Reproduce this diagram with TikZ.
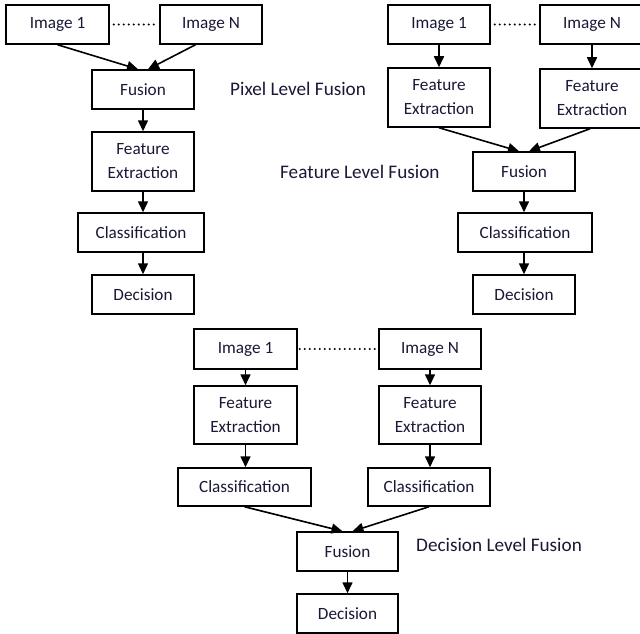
\documentclass[tikz,border=0pt]{standalone}
\usepackage{fontspec}
\setmainfont{Carlito}
\usetikzlibrary{arrows.meta,calc}
\definecolor{txt}{RGB}{25,25,55}
\begin{document}
\begin{tikzpicture}[x=1pt,y=-1pt,
  box/.style={draw=black,line width=1.5pt,rectangle,inner sep=0pt,
    text=txt,font=\fontsize{17.2}{24}\selectfont,align=center},
  lvl/.style={inner sep=0pt,anchor=west,text=txt,font=\fontsize{19.2}{23}\selectfont},
  arr/.style={draw=black,line width=1.6pt,-{Triangle[length=11pt,width=10pt]}},
  dots/.style={draw=black,line width=2.2pt,line cap=round,dash pattern=on 0pt off 5pt}]
\useasboundingbox (0,0) rectangle (640,634);
\clip (0,0) rectangle (640,634);
\fill[white] (0,0) rectangle (640,634);

% Pixel level fusion
\node[box,minimum width=103pt,minimum height=39pt] (i1a) at (57.5,24.5) {Image 1};
\node[box,minimum width=102pt,minimum height=39pt] (iNa) at (211,24.5) {Image N};
\node[box,minimum width=102pt,minimum height=39pt] (fa) at (143,89.5) {Fusion};
\node[box,minimum width=102pt,minimum height=59pt] (fea) at (143,161.5) {Feature\\Extraction};
\node[box,minimum width=126pt,minimum height=39pt] (ca) at (141,232.5) {Classification};
\node[box,minimum width=102pt,minimum height=39pt] (da) at (143,294.5) {Decision};
\draw[dots] ($(i1a.east)+(4,0)$) -- ($(iNa.west)+(-2,0)$);
\draw[arr] (i1a.south) -- ($(fa.north)+(-5,0)$);
\draw[arr] ($(iNa.south west)!0.35!(iNa.south east)$) -- ($(fa.north)+(5,0)$);
\draw[arr] (fa.south) -- (fea.north);
\draw[arr] (fea.south) -- (fea.south |- ca.north);
\draw[arr] (ca.south -| da.north) -- (da.north);
\node[lvl] (lp) at (230,89) {Pixel Level Fusion};

% Feature level fusion
\node[box,minimum width=102pt,minimum height=39pt] (i1b) at (439,24.5) {Image 1};
\node[box,minimum width=104pt,minimum height=39pt] (iNb) at (592,24.5) {Image N};
\node[box,minimum width=102pt,minimum height=59pt] (feb1) at (439,97.5) {Feature\\Extraction};
\node[box,minimum width=104pt,minimum height=59pt] (feb2) at (592,98.5) {Feature\\Extraction};
\node[box,minimum width=102pt,minimum height=39pt] (fb) at (524,171.5) {Fusion};
\node[box,minimum width=134pt,minimum height=39pt] (cb) at (525,232.5) {Classification};
\node[box,minimum width=102pt,minimum height=39pt] (db) at (524,294.5) {Decision};
\draw[dots] ($(i1b.east)+(4,0)$) -- ($(iNb.west)+(-2,0)$);
\draw[arr] (i1b.south) -- (feb1.north);
\draw[arr] (iNb.south) -- (iNb.south |- feb2.north);
\draw[arr] (feb1.south) -- ($(fb.north)+(-5,0)$);
\draw[arr] ($(feb2.south)+(-2,0)$) -- ($(fb.north)+(5,0)$);
\draw[arr] (fb.south) -- (fb.south |- cb.north);
\draw[arr] (cb.south -| db.north) -- (db.north);
\node[lvl] (lf) at (280,171.5) {Feature Level Fusion};

% Decision level fusion
\node[box,minimum width=103pt,minimum height=40pt] (i1c) at (245.5,349) {Image 1};
\node[box,minimum width=102pt,minimum height=40pt] (iNc) at (430,349) {Image N};
\node[box,minimum width=103pt,minimum height=58pt] (fec1) at (245.5,415) {Feature\\Extraction};
\node[box,minimum width=102pt,minimum height=58pt] (fec2) at (430,415) {Feature\\Extraction};
\node[box,minimum width=133pt,minimum height=38pt] (cc1) at (244.5,487) {Classification};
\node[box,minimum width=122pt,minimum height=38pt] (cc2) at (429,487) {Classification};
\node[box,minimum width=101pt,minimum height=39pt] (fc) at (347.5,551.5) {Fusion};
\node[box,minimum width=101pt,minimum height=39pt] (dc) at (347.5,613.5) {Decision};
\draw[dots] ($(i1c.east)+(2,0)$) -- ($(iNc.west)+(-3,0)$);
\draw[arr] (i1c.south) -- (fec1.north);
\draw[arr] (iNc.south) -- (fec2.north);
\draw[arr] (fec1.south) -- (fec1.south |- cc1.north);
\draw[arr] (fec2.south) -- (fec2.south |- cc2.north);
\draw[arr] (cc1.south) -- ($(fc.north)+(-5,0)$);
\draw[arr] (cc2.south) -- ($(fc.north)+(5,0)$);
\draw[arr] (fc.south) -- (dc.north);
\node[lvl] (ld) at (416,545) {Decision Level Fusion};
\end{tikzpicture}
\end{document}
